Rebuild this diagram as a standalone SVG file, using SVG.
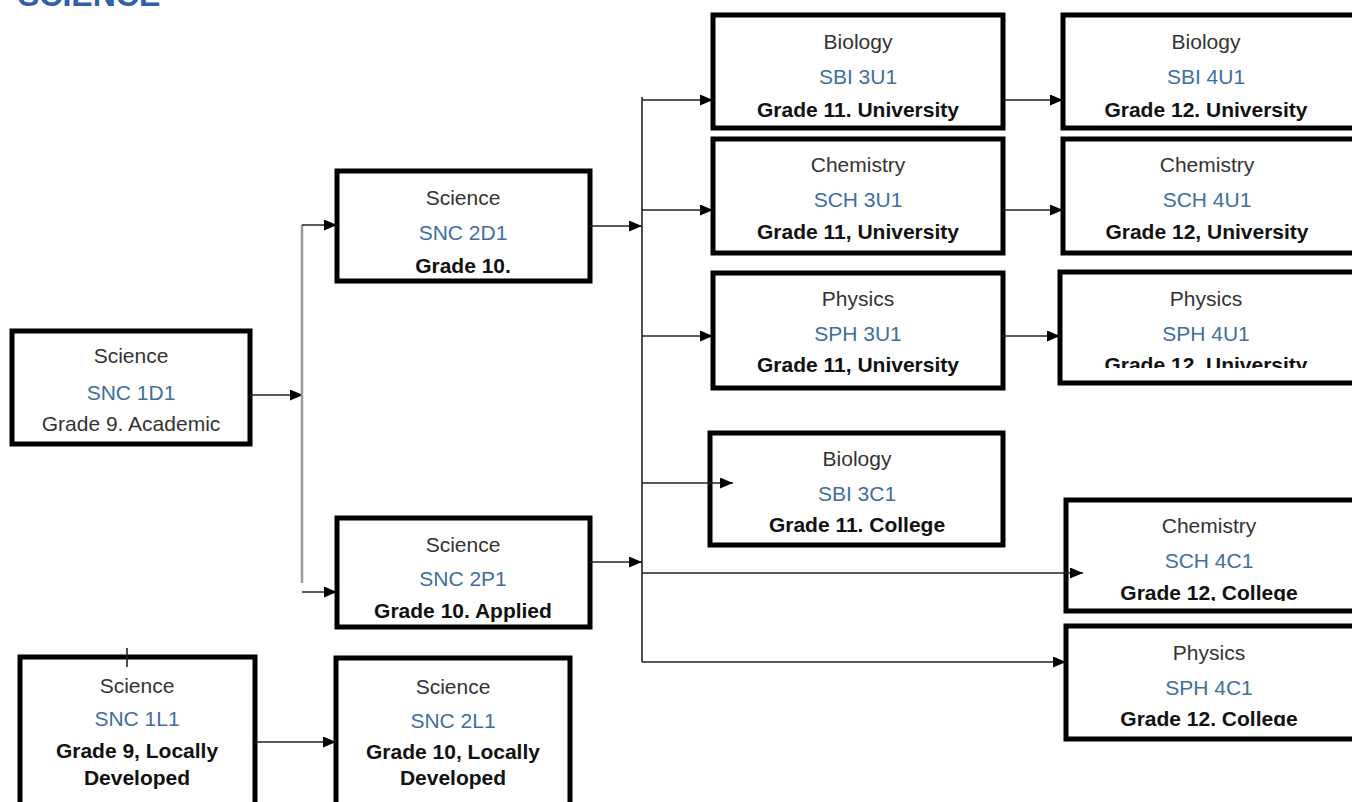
<svg xmlns="http://www.w3.org/2000/svg" width="1352" height="802" viewBox="0 0 1352 802">
<style>
.box{fill:#fff;stroke:#000;stroke-width:5}
text{font-family:"Liberation Sans",Arial,sans-serif;font-size:21px;text-anchor:middle}
.t{fill:#333}
.c{fill:#3f6e9e}
.g{fill:#111;font-weight:bold}
.ln{fill:none;stroke:#222;stroke-width:1.6}
.gray{fill:none;stroke:#999;stroke-width:2.5}
.title{font-family:"Liberation Sans",Arial,sans-serif;font-size:32px;font-weight:bold;fill:#2f5fa7;text-anchor:start}
</style>
<defs>
<marker id="ah" markerUnits="userSpaceOnUse" markerWidth="13" markerHeight="11" refX="13" refY="5.5" orient="auto">
<path d="M0,0 L13,5.5 L0,11 z" fill="#000"/>
</marker>
<clipPath id="k1"><rect x="14" y="333" width="234" height="109"/></clipPath>
<clipPath id="k2"><rect x="339" y="173" width="249" height="106"/></clipPath>
<clipPath id="k3"><rect x="339" y="520" width="249" height="105"/></clipPath>
<clipPath id="k4"><rect x="22" y="659" width="231" height="143"/></clipPath>
<clipPath id="k5"><rect x="338" y="660" width="230" height="142"/></clipPath>
<clipPath id="k6"><rect x="715" y="17" width="286" height="109"/></clipPath>
<clipPath id="k7"><rect x="1065" y="17" width="287" height="109"/></clipPath>
<clipPath id="k8"><rect x="715" y="141" width="286" height="110"/></clipPath>
<clipPath id="k9"><rect x="1065" y="141" width="287" height="110"/></clipPath>
<clipPath id="k10"><rect x="715" y="275" width="286" height="111"/></clipPath>
<clipPath id="k11"><rect x="1062" y="274" width="290" height="94"/></clipPath>
<clipPath id="k12"><rect x="712" y="435" width="289" height="102"/></clipPath>
<clipPath id="k13"><rect x="1068" y="502" width="284" height="99"/></clipPath>
<clipPath id="k14"><rect x="1068" y="628" width="284" height="98"/></clipPath>
</defs>

<text class="title" x="18" y="6">SCIENCE</text>

<g id="snc1d1"><rect class="box" x="12" y="331" width="238" height="113"/>
<g clip-path="url(#k1)"><text class="t" x="131" y="363">Science</text><text class="c" x="131" y="400">SNC 1D1</text><text class="t" x="131" y="431">Grade 9. Academic</text></g></g>

<g id="snc2d1"><rect class="box" x="337" y="171" width="253" height="110"/>
<g clip-path="url(#k2)"><text class="t" x="463" y="205">Science</text><text class="c" x="463" y="240">SNC 2D1</text><text class="g" x="463" y="273">Grade 10.</text></g></g>

<g id="snc2p1"><rect class="box" x="337" y="518" width="253" height="109"/>
<g clip-path="url(#k3)"><text class="t" x="463" y="552">Science</text><text class="c" x="463" y="586">SNC 2P1</text><text class="g" x="463" y="618">Grade 10. Applied</text></g></g>

<g id="snc1l1"><rect class="box" x="20" y="657" width="235" height="150"/>
<g clip-path="url(#k4)"><text class="t" x="137" y="693">Science</text><text class="c" x="137" y="726">SNC 1L1</text><text class="g" x="137" y="758">Grade 9, Locally</text><text class="g" x="137" y="785">Developed</text></g></g>

<g id="snc2l1"><rect class="box" x="336" y="658" width="234" height="150"/>
<g clip-path="url(#k5)"><text class="t" x="453" y="694">Science</text><text class="c" x="453" y="728">SNC 2L1</text><text class="g" x="453" y="759">Grade 10, Locally</text><text class="g" x="453" y="785">Developed</text></g></g>

<g id="sbi3u1"><rect class="box" x="713" y="15" width="290" height="113"/>
<g clip-path="url(#k6)"><text class="t" x="858" y="49">Biology</text><text class="c" x="858" y="84">SBI 3U1</text><text class="g" x="858" y="117">Grade 11. University</text></g></g>

<g id="sbi4u1"><rect class="box" x="1063" y="15" width="292" height="113"/>
<g clip-path="url(#k7)"><text class="t" x="1206" y="49">Biology</text><text class="c" x="1206" y="84">SBI 4U1</text><text class="g" x="1206" y="117">Grade 12. University</text></g></g>

<g id="sch3u1"><rect class="box" x="713" y="139" width="290" height="114"/>
<g clip-path="url(#k8)"><text class="t" x="858" y="172">Chemistry</text><text class="c" x="858" y="207">SCH 3U1</text><text class="g" x="858" y="239">Grade 11, University</text></g></g>

<g id="sch4u1"><rect class="box" x="1063" y="139" width="292" height="114"/>
<g clip-path="url(#k9)"><text class="t" x="1207" y="172">Chemistry</text><text class="c" x="1207" y="207">SCH 4U1</text><text class="g" x="1207" y="239">Grade 12, University</text></g></g>

<g id="sph3u1"><rect class="box" x="713" y="273" width="290" height="115"/>
<g clip-path="url(#k10)"><text class="t" x="858" y="306">Physics</text><text class="c" x="858" y="341">SPH 3U1</text><text class="g" x="858" y="372">Grade 11, University</text></g></g>

<g id="sph4u1"><rect class="box" x="1060" y="272" width="295" height="111"/>
<g clip-path="url(#k11)"><text class="t" x="1206" y="306">Physics</text><text class="c" x="1206" y="341">SPH 4U1</text><text class="g" x="1206" y="372">Grade 12. University</text></g></g>

<g id="sbi3c1"><rect class="box" x="710" y="433" width="293" height="112"/>
<g clip-path="url(#k12)"><text class="t" x="857" y="466">Biology</text><text class="c" x="857" y="501">SBI 3C1</text><text class="g" x="857" y="532">Grade 11. College</text></g></g>

<g id="sch4c1"><rect class="box" x="1066" y="500" width="290" height="111"/>
<g clip-path="url(#k13)"><text class="t" x="1209" y="533">Chemistry</text><text class="c" x="1209" y="568">SCH 4C1</text><text class="g" x="1209" y="600">Grade 12, College</text></g></g>

<g id="sph4c1"><rect class="box" x="1066" y="626" width="290" height="113"/>
<g clip-path="url(#k14)"><text class="t" x="1209" y="660">Physics</text><text class="c" x="1209" y="695">SPH 4C1</text><text class="g" x="1209" y="726">Grade 12. College</text></g></g>

<g id="connectors">
<line class="ln" x1="250" y1="395" x2="303" y2="395" marker-end="url(#ah)"/>
<line class="gray" x1="302" y1="225" x2="302" y2="583"/>
<line class="ln" x1="302" y1="225" x2="337" y2="225" marker-end="url(#ah)"/>
<line class="ln" x1="302" y1="592" x2="337" y2="592" marker-end="url(#ah)"/>
<line class="ln" x1="590" y1="226" x2="642" y2="226" marker-end="url(#ah)"/>
<line class="ln" x1="642" y1="97" x2="642" y2="662"/>
<line class="ln" x1="642" y1="100" x2="713" y2="100" marker-end="url(#ah)"/>
<line class="ln" x1="642" y1="210" x2="713" y2="210" marker-end="url(#ah)"/>
<line class="ln" x1="642" y1="336" x2="713" y2="336" marker-end="url(#ah)"/>
<line class="ln" x1="642" y1="483" x2="733" y2="483" marker-end="url(#ah)"/>
<line class="ln" x1="590" y1="562" x2="642" y2="562" marker-end="url(#ah)"/>
<line class="ln" x1="642" y1="573" x2="1083" y2="573" marker-end="url(#ah)"/>
<line class="ln" x1="642" y1="662" x2="1066" y2="662" marker-end="url(#ah)"/>
<line class="ln" x1="1003" y1="100" x2="1063" y2="100" marker-end="url(#ah)"/>
<line class="ln" x1="1003" y1="210" x2="1063" y2="210" marker-end="url(#ah)"/>
<line class="ln" x1="1003" y1="336" x2="1060" y2="336" marker-end="url(#ah)"/>
<line class="ln" x1="255" y1="742" x2="336" y2="742" marker-end="url(#ah)"/>
<line class="ln" x1="127" y1="648" x2="127" y2="667"/>
</g>
</svg>
